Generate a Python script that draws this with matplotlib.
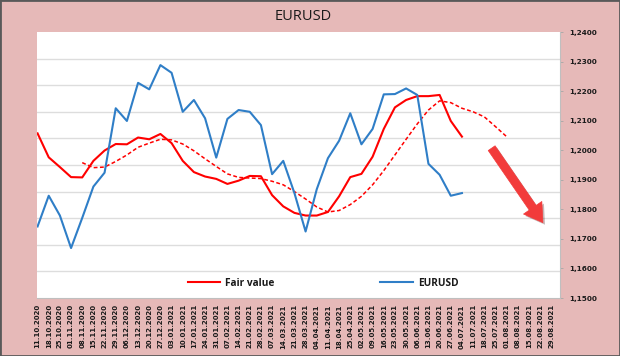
import numpy as np
import matplotlib
matplotlib.use("Agg")
import matplotlib.pyplot as plt
import matplotlib.patheffects as pe

dates = ["11.10.2020", "18.10.2020", "25.10.2020", "01.11.2020", "08.11.2020", "15.11.2020",
         "22.11.2020", "29.11.2020", "06.12.2020", "13.12.2020", "20.12.2020", "27.12.2020",
         "03.01.2021", "10.01.2021", "17.01.2021", "24.01.2021", "31.01.2021", "07.02.2021",
         "14.02.2021", "21.02.2021", "28.02.2021", "07.03.2021", "14.03.2021", "21.03.2021",
         "28.03.2021", "04.04.2021", "11.04.2021", "18.04.2021", "25.04.2021", "02.05.2021",
         "09.05.2021", "16.05.2021", "23.05.2021", "30.05.2021", "06.06.2021", "13.06.2021",
         "20.06.2021", "27.06.2021", "04.07.2021", "11.07.2021", "18.07.2021", "25.07.2021",
         "01.08.2021", "08.08.2021", "15.08.2021", "22.08.2021", "29.08.2021"]

fair_value = [1.2057, 1.1976, 1.1943, 1.1909, 1.1908, 1.1964, 1.1999, 1.2021, 1.2020, 1.2043,
              1.2037, 1.2055, 1.2024, 1.1964, 1.1926, 1.1911, 1.1903, 1.1886, 1.1897, 1.1913,
              1.1912, 1.1848, 1.1810, 1.1788, 1.1779, 1.1779, 1.1791, 1.1844, 1.1909, 1.1920,
              1.1978, 1.2072, 1.2145, 1.2170, 1.2183, 1.2183, 1.2187, 1.2099, 1.2046]

fair_value_trend = [None, None, None, None,
                    1.1958, 1.1941, 1.1943, 1.1962, 1.1984, 1.2010, 1.2024, 1.2037, 1.2035,
                    1.2021, 1.1998, 1.1971, 1.1945, 1.1920, 1.1908, 1.1906, 1.1904, 1.1895,
                    1.1883, 1.1860, 1.1835, 1.1808, 1.1791, 1.1796, 1.1816, 1.1844, 1.1883,
                    1.1931, 1.1984, 1.2037, 1.2089, 1.2136, 1.2167, 1.2161, 1.2142, 1.2130,
                    1.2113, 1.2080, 1.2046]

eurusd = [1.1742, 1.1846, 1.1779, 1.1669, 1.1771, 1.1877, 1.1924, 1.2142, 1.2099, 1.2228,
          1.2206, 1.2288, 1.2262, 1.2130, 1.2170, 1.2108, 1.1975, 1.2106, 1.2136, 1.2130,
          1.2085, 1.1919, 1.1964, 1.1855, 1.1725, 1.1868, 1.1973, 1.2032, 1.2125, 1.2020,
          1.2072, 1.2189, 1.2190, 1.2209, 1.2187, 1.1954, 1.1917, 1.1846, 1.1855]

y_ticks = [1.15, 1.16, 1.17, 1.18, 1.19, 1.20, 1.21, 1.22, 1.23, 1.24]
y_tick_labels = ["1,1500", "1,1600", "1,1700", "1,1800", "1,1900", "1,2000",
                 "1,2100", "1,2200", "1,2300", "1,2400"]

PINK = "#E6B9B8"
RED = "#FF0000"
BLUE = "#2F7EC7"
TXT = "#1A1A1A"

W, H = 620, 356
fig = plt.figure(figsize=(W / 100, H / 100), dpi=100, facecolor=PINK)
fig.patches.append(plt.Rectangle((0, 0), 1, 1, transform=fig.transFigure, fill=False,
                                 edgecolor="#595959", linewidth=2.0, zorder=10))

L, R, T, B = 37, 560, 32, 298
ax = fig.add_axes([L / W, 1 - B / H, (R - L) / W, (B - T) / H])
ax.set_facecolor("white")

x_all = np.arange(len(dates))
fv = np.array(fair_value, dtype=float)
tr = np.array([np.nan if v is None else v for v in fair_value_trend], dtype=float)
eu = np.array(eurusd, dtype=float)

# gridlines (primary axis split into 10 equal parts)
for k in range(1, 10):
    ax.plot([0, 1], [k / 10, k / 10], transform=ax.transAxes, color="#DDDDDD",
            linewidth=1.0, zorder=1)

ax.plot(x_all[:len(tr)], tr, color=RED, linewidth=1.1, linestyle=(0, (2.5, 1.6)), zorder=3)
ax.plot(x_all[:len(fv)], fv, color=RED, linewidth=1.5, label="Fair value", zorder=4)
ax.plot(x_all[:len(eu)], eu, color=BLUE, linewidth=1.5, label="EURUSD", zorder=4)

ax.set_xlim(-0.05, 46.78)
ax.set_ylim(1.15, 1.24)

ax.set_xticks(x_all)
ax.set_xticklabels(dates, rotation=90, fontsize=5, fontweight="bold", color=TXT,
                   family="DejaVu Sans")
ax.tick_params(axis="x", length=0, pad=4.5)

ax.yaxis.tick_right()
ax.set_yticks(y_ticks)
ax.set_yticklabels(y_tick_labels, fontsize=5.2, fontweight="bold", color=TXT,
                   family="DejaVu Sans")
ax.tick_params(axis="y", length=2.5, width=0.6, color="#A6A6A6", pad=4)

for s in ["top", "left"]:
    ax.spines[s].set_visible(False)
for s in ["right", "bottom"]:
    ax.spines[s].set_color("#BFBFBF")
    ax.spines[s].set_linewidth(0.8)

leg = ax.legend(loc="lower left", bbox_to_anchor=((190 - L) / (R - L) - 0.004, 0.035),
                ncol=2, frameon=False, handlelength=3.2, handletextpad=0.5,
                columnspacing=10.4, prop={"family": "Open Sans", "weight": "bold", "size": 7.3},
                borderaxespad=0, borderpad=0)
for t in leg.get_texts():
    t.set_color(TXT)

fig.text(303 / W, 1 - 17 / H, "EURUSD", ha="center", va="center", fontsize=10.5,
         family="Open Sans", color=TXT)

# red arrow annotation
ax.annotate("", xy=(45.25, 1.1755), xytext=(40.66, 1.2007),
            arrowprops=dict(arrowstyle="simple,head_width=1.6,head_length=1.3,tail_width=0.6",
                            mutation_scale=10, facecolor="#F23B3B", edgecolor="#F23B3B",
                            linewidth=0.5, shrinkA=0, shrinkB=0,
                            path_effects=[pe.SimplePatchShadow(offset=(1.5, -1.5), alpha=0.3),
                                          pe.Normal()]),
            zorder=6)

fig.savefig("out.png", dpi=100, facecolor=PINK)
